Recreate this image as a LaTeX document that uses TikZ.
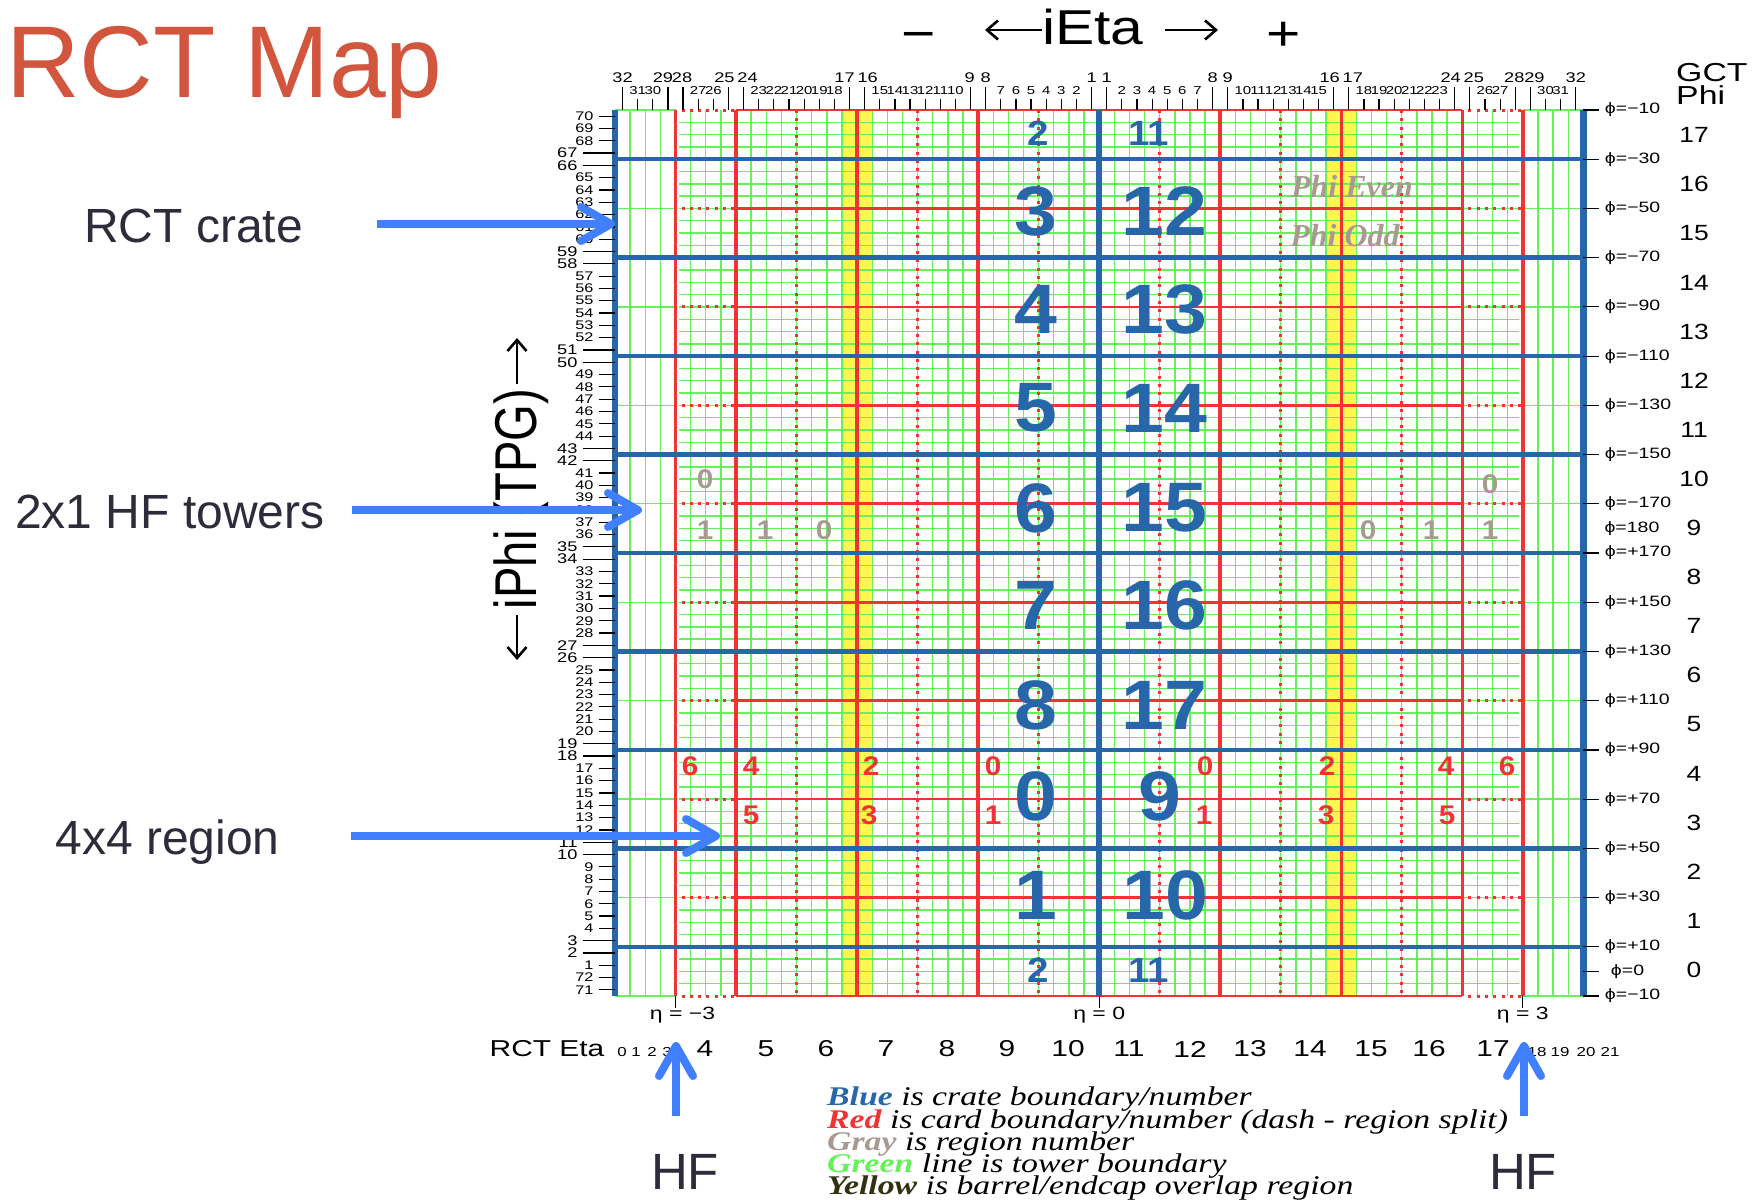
\documentclass[tikz,border=0pt]{standalone}
\usepackage{fontspec}
\setmainfont{Liberation Serif}
\setsansfont{Liberation Sans}
\newfontfamily\widesans[FakeStretch=1.3]{Liberation Sans}
\newfontfamily\cratesans[FakeStretch=1.1]{Liberation Sans}
\newfontfamily\titlesans[FakeStretch=1.2]{Liberation Sans}
\newfontfamily\narrowsans[FakeStretch=0.8]{Liberation Sans}
\newfontfamily\legendserif[FakeStretch=1.25]{Liberation Serif}
\usepackage{tikz}
\usetikzlibrary{arrows.meta}
\definecolor{crateblue}{HTML}{2767A9}
\definecolor{cardred}{HTML}{F23333}
\definecolor{towergreen}{HTML}{66F05A}
\definecolor{overlapyellow}{HTML}{FFF650}
\definecolor{regiongray}{HTML}{A89A92}
\definecolor{arrowblue}{HTML}{4080FF}
\definecolor{titlered}{HTML}{D2553E}
\definecolor{slidetext}{HTML}{2C2C3A}
\newcommand{\pxfont}[1]{\fontsize{#1}{#1}\selectfont}

\begin{document}
\begin{tikzpicture}[
    x=1pt, y=-1pt,
    every node/.style={inner sep=0pt, font=\sffamily},
    towerline/.style={draw=towergreen, line width=1.4pt},
    cardline/.style={draw=cardred, line width=3.5pt},
    splitline/.style={draw=cardred, line width=2.6pt},
    splitdots/.style={draw=cardred, line width=3pt, dash pattern=on 3pt off 5.3pt},
    crateline/.style={draw=crateblue, line width=4.5pt},
    frameline/.style={draw=crateblue, line width=6.5pt},
    tickline/.style={draw=black, line width=1.2pt},
    toplarge/.style={font=\widesans\pxfont{14}, anchor=south, yshift=4pt},
    topsmall/.style={font=\widesans\pxfont{11.5}, anchor=south, yshift=4pt},
    philabel/.style={font=\widesans\pxfont{15}, anchor=west},
    gctnum/.style={font=\titlesans\pxfont{22}},
    etanum/.style={font=\widesans\pxfont{23}},
    etasmall/.style={font=\widesans\pxfont{13}},
    etamark/.style={font=\widesans\pxfont{17.7}},
    cratebig/.style={font=\cratesans\bfseries\pxfont{70}, text=crateblue},
    cratesmall/.style={font=\cratesans\bfseries\pxfont{35}, text=crateblue},
    cardnum/.style={font=\cratesans\bfseries\pxfont{27}, text=cardred},
    regionnum/.style={font=\cratesans\bfseries\pxfont{27}, text=regiongray},
    phitag/.style={font=\rmfamily\bfseries\itshape\pxfont{32}, text=regiongray},
    legendline/.style={font=\legendserif\itshape\pxfont{27}, anchor=base west},
    slidelabel/.style={font=\sffamily\pxfont{48}, text=slidetext},
    hfarrow/.style={draw=arrowblue, line width=8pt, -{Straight Barb[length=30pt,width=34pt,round]}},
    axisarrow/.style={draw=black, line width=2.6pt, -{Straight Barb[length=11pt,width=19pt]}}
]
\useasboundingbox (0,0) rectangle (1763,1199);

% the grid, in towers and rows
\begin{scope}[shift={(615,110)}, x=15.13pt, y=-12.306pt]
    \fill[overlapyellow] (15,0) rectangle (17,72);
    \fill[overlapyellow] (47,0) rectangle (49,72);
    \foreach \c in {1,...,63}
        \draw[towerline] (\c,0) -- (\c,72);
    \foreach \r in {1,...,71}
        \draw[towerline] (4.25,\r) -- (59.75,\r);
    \foreach \r in {0,8,16,24,32,40,48,56,64,72} {
        \draw[towerline] (0,\r) -- (4,\r);
        \draw[towerline] (60,\r) -- (64,\r);
    }
    \foreach \r in {0,8,16,24,32,40,48,56,64,72} {
        \draw[splitline] (8,\r) -- (56,\r);
        \draw[splitdots] (4.4,\r) -- (8,\r);
        \draw[splitdots] (56.4,\r) -- (60,\r);
    }
    \foreach \c in {4,8,16,24,40,48,56,60}
        \draw[cardline] (\c,0) -- (\c,72);
    \foreach \c in {12,20,28,36,44,52}
        \draw[splitdots] (\c,0) -- (\c,72);
    \foreach \r in {4,12,20,28,36,44,52,60,68}
        \draw[crateline] (0,\r) -- (64,\r);
    \draw[frameline] (0,0) -- (0,72);
    \draw[frameline] (64,0) -- (64,72);
    \draw[crateline, line width=5.5pt] (32,0) -- (32,72);

    % tower numbers along the top
    \foreach \t/\dx in {1/0,8/0,9/-1,16/3,17/-5,24/4,25/-4,28/-1,29/-5,32/0}
        \draw[tickline] ({32.5-\t},0) -- +(0,23pt) node[toplarge, xshift=\dx pt] (etaL\t) {\t};
    \foreach \t/\dx in {1/0,8/0,9/0,16/-4,17/4,24/-4,25/4,28/-1,29/4,32/0}
        \draw[tickline] ({31.5+\t},0) -- +(0,23pt) node[toplarge, xshift=\dx pt] (etaR\t) {\t};
    \foreach \t in {2,3,4,5,6,7,10,11,12,13,14,15,18,19,20,21,22,23,26,27,30,31} {
        \draw[tickline] ({32.5-\t},0) -- +(0,11pt) node[topsmall] (etaL\t) {\t};
        \draw[tickline] ({31.5+\t},0) -- +(0,11pt) node[topsmall] (etaR\t) {\t};
    }

    % TPG numbers down the side
    \foreach \r in {0,...,71} {
        \pgfmathtruncatemacro\tpg{mod(141-\r,72)+1}
        \pgfmathtruncatemacro\rowmod{mod(\r,8)}
        \pgfmathsetmacro\ticklen{(\rowmod==3||\rowmod==4)?32:16}
        \pgfmathsetmacro\labsize{(\rowmod==3||\rowmod==4)?14:12.5}
        \draw[tickline] (0,\r+.5) -- +(-\ticklen pt,0)
            node[anchor=east, xshift=-5pt, font=\widesans\pxfont{\labsize}] (tpg\tpg) {\tpg};
    }

    % phi values down the right side
    \foreach \r/\phival in {0/−10,4/−30,8/−50,12/−70,16/−90,20/−110,24/−130,28/−150,32/−170,
                            36/+170,40/+150,44/+130,48/+110,52/+90,56/+70,60/+50,64/+30,68/+10,72/−10}
        \draw[tickline] (64,\r) -- +(16pt,0) node[philabel, xshift=5pt] (phi\r) {ϕ=\phival};
    \draw[tickline] (64,70) -- +(16pt,0) node[philabel, xshift=11pt] (phi70) {ϕ=0};
    \node[philabel, xshift=21pt] (phi34) at (64,34) {ϕ=180};

    % eta marks under the grid
    \foreach \c/\etaval/\dx in {4/−3/7,32/0/0,60/3/0} {
        \draw[tickline] (\c,72) -- +(0,-12pt) coordinate (etamark\c);
        \node[etamark, anchor=north, xshift=\dx pt, yshift=-11pt] (etaval\c) at (\c,72) {η = \etaval};
    }
\end{scope}

% GCT phi column
\node[font=\widesans\pxfont{26}, anchor=west] (gct) at (1676,73) {GCT};
\node[font=\widesans\pxfont{26}, anchor=west] (gctphi) at (1676,95) {Phi};
\foreach \n in {0,...,17}
    \node[gctnum] (gct\n) at (1694,{970-49.1*\n}) {\n};

% RCT eta row
\node[etanum] (rcteta) at (547,1049) {RCT Eta};
\foreach \x/\n in {622/0,636/1,652/2,667/3,1537/18,1560/19,1586/20,1610/21}
    \node[etasmall] (rct\n) at (\x,1052) {\n};
\foreach \x/\n in {705/4,766/5,826/6,886/7,947/8,1007/9,1068/10,1129/11,1190/12,1250/13,1310/14,1371/15,1429/16,1493/17}
    \node[etanum] (rct\n) at (\x,1049) {\n};

% crate numbers
\foreach \x/\y/\n in {1036/211/3,1036/309/4,1036/408/5,1036/508/6,1036/605/7,1036/705/8,1036/796/0,1036/895/1,
                      1164/211/12,1164/309/13,1164/408/14,1164/508/15,1164/605/16,1164/705/17,1160/796/9,1165/895/10}
    \node[cratebig] (crate\n) at (\x,\y) {\n};
\node[cratesmall] (crateTopA) at (1038,133) {2};
\node[cratesmall] (crateTopB) at (1149,133) {11};
\node[cratesmall] (crateLowA) at (1038,970) {2};
\node[cratesmall] (crateLowB) at (1149,970) {11};

% card numbers
\foreach \x/\y/\n [count=\k] in {690/766/6,751/766/4,871/766/2,993/766/0,1205/766/0,1327/766/2,1446/766/4,1507/766/6,
                                 751/815/5,869/815/3,993/815/1,1204/815/1,1326/815/3,1447/815/5}
    \node[cardnum] (card\k) at (\x,\y) {\n};

% region numbers
\foreach \x/\y/\n [count=\k] in {705/479/0,705/530/1,765/530/1,824/530/0,1490/484/0,1490/530/1,1431/530/1,1368/530/0}
    \node[regionnum] (region\k) at (\x,\y) {\n};
\node[phitag] (phieven) at (1352,187) {Phi Even};
\node[phitag] (phiodd) at (1345,236) {Phi Odd};

% headings
\node[font=\sffamily\pxfont{102}, text=titlered, anchor=base west] (title) at (6,97) {RCT Map};
\node[font=\titlesans\pxfont{49}, anchor=base] (ieta) at (1093,45) {iEta};
\node[font=\titlesans\pxfont{49}] (etaminus) at (919,41) {−};
\node[font=\titlesans\pxfont{49}] (etaplus) at (1284,36) {+};
\coordinate (ietaLeftTip) at (985,30);
\coordinate (ietaRightTip) at (1218,30);
\draw[axisarrow] (ieta.west |- ietaLeftTip) -- (ietaLeftTip);
\draw[axisarrow, shorten <=21pt] (ieta.east |- ietaRightTip) -- (ietaRightTip);
\node[font=\narrowsans\pxfont{59}, rotate=90, anchor=base] (iphi) at (536,499) {iPhi (TPG)};
\coordinate (iphiDownTip) at (517,660);
\coordinate (iphiUpTip) at (517,338);
\draw[axisarrow, shorten <=6pt] (iphi.west -| iphiDownTip) -- (iphiDownTip);
\draw[axisarrow, shorten <=5pt] (iphi.east -| iphiUpTip) -- (iphiUpTip);

% legend
\node[legendline] (legblue) at (827,1105) {\textcolor{crateblue}{\bfseries Blue} is crate boundary/number};
\node[legendline] (legred) at (827,1128) {\textcolor{cardred}{\bfseries Red} is card boundary/number (dash - region split)};
\node[legendline] (leggray) at (827,1150) {\textcolor{regiongray}{\bfseries Gray} is region number};
\node[legendline] (leggreen) at (827,1172) {\textcolor{towergreen}{\bfseries Green} line is tower boundary};
\node[legendline] (legyellow) at (827,1194) {\textcolor{overlapyellow!20!black}{\bfseries Yellow} is barrel/endcap overlap region};

% callouts
\node[slidelabel] (crateLabel) at (193.5,226) {RCT crate};
\node[slidelabel] (towersLabel) at (170,512) {2x1 HF towers};
\node[slidelabel] (regionLabel) at (167.5,842) {4x4 region};
\node[slidelabel, font=\sffamily\pxfont{51}] (hfLeft) at (685,1172) {HF};
\node[slidelabel, font=\sffamily\pxfont{51}] (hfRight) at (1523,1172) {HF};
\coordinate (crateTip) at (615,224);
\coordinate (towersTip) at (642,510);
\coordinate (regionTip) at (720,836);
\coordinate (hfLeftTip) at (676,1042);
\coordinate (hfRightTip) at (1524,1042);
\draw[hfarrow, shorten <=74pt] (crateLabel.east |- crateTip) -- (crateTip);
\draw[hfarrow, shorten <=27pt] (towersLabel.east |- towersTip) -- (towersTip);
\draw[hfarrow, shorten <=71pt] (regionLabel.east |- regionTip) -- (regionTip);
\draw[hfarrow, shorten <=38pt] (hfLeft.north -| hfLeftTip) -- (hfLeftTip);
\draw[hfarrow, shorten <=38pt] (hfRight.north -| hfRightTip) -- (hfRightTip);
\end{tikzpicture}
\end{document}
